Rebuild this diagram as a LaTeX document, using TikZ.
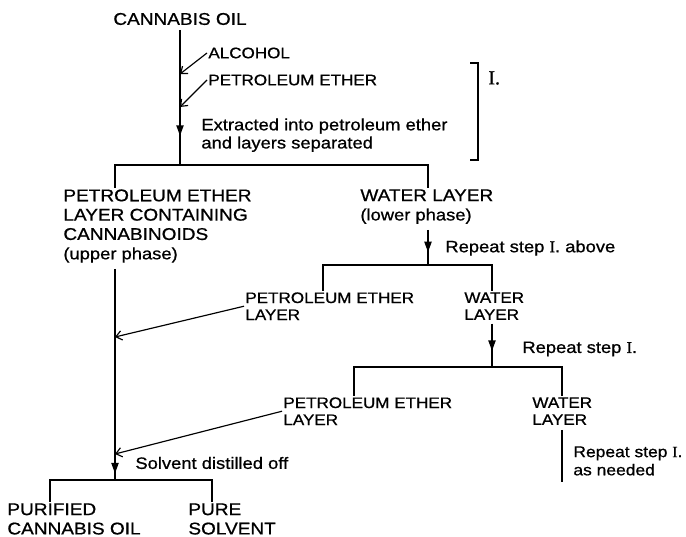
\documentclass[tikz,border=0pt]{standalone}
\usepackage{fontspec}
\setmainfont{Liberation Sans}[FakeStretch=1.12,FakeBold=0.8]
\newfontfamily\romnum{Liberation Serif}[FakeBold=1]
\usetikzlibrary{arrows.meta,decorations.markings}

\begin{document}
\begin{tikzpicture}[x=0.03cm,y=-0.03cm,
  big/.style={inner sep=1pt,align=left,font=\fontsize{14.5}{16.5}\selectfont},
  small/.style={inner sep=1pt,align=left,font=\fontsize{13}{14.5}\selectfont},
  note/.style={inner sep=1pt,align=left,font=\fontsize{14}{15.5}\selectfont},
  flow/.style={line width=1.6pt},
  feed/.style={line width=1pt,-{Straight Barb[length=5pt,width=8pt]}},
  midarrow/.style={postaction={decorate},decoration={markings,
    mark=at position #1 with {\arrow{Triangle[length=9pt,width=6pt]}}}}]
\useasboundingbox (0,0) rectangle (686,537);
\node[big] (oil) at (180,19) {CANNABIS OIL};
\node[small,anchor=west] (alc) at (207,53) {ALCOHOL};
\node[small,anchor=west] (pe0) at (207,80) {PETROLEUM ETHER};
\node[note,anchor=north west] (extr) at (200,117) {Extracted into petroleum ether\\and layers separated};
\node[anchor=west,inner sep=1pt,font=\fontsize{17}{18}\romnum] (step) at (487,78) {I.};
\node[big,anchor=north west] (pel) at (62,188) {PETROLEUM ETHER\\LAYER CONTAINING\\CANNABINOIDS\\{\fontsize{14}{16}\selectfont(upper phase)}};
\node[big,anchor=north west] (wat1) at (359,188) {WATER LAYER\\{\fontsize{14}{16}\selectfont(lower phase)}};
\node[note,anchor=west] (rep1) at (444,248) {Repeat step {\romnum I}. above};
\node[small,anchor=north west] (pe2) at (244,291) {PETROLEUM ETHER\\LAYER};
\node[small,anchor=north west] (wat2) at (463,291) {WATER\\LAYER};
\node[note,anchor=west] (rep2) at (521,349) {Repeat step {\romnum I}.};
\node[small,anchor=north west] (pe3) at (282,396) {PETROLEUM ETHER\\LAYER};
\node[small,anchor=north west] (wat3) at (531,396) {WATER\\LAYER};
\node[note,anchor=north west,font=\fontsize{13.3}{15.5}\selectfont] (rep3) at (572,445) {Repeat step {\romnum I}.\\as needed};
\node[note,anchor=west] (distil) at (134,463) {Solvent distilled off};
\node[big,anchor=north west] (oilout) at (6,502) {PURIFIED\\CANNABIS OIL};
\node[big,anchor=north west] (solvout) at (187,502) {PURE\\SOLVENT};
\coordinate (b1) at (180,165);
\coordinate (b1l) at (115,165);
\coordinate (b1r) at (428,165);
\coordinate (in1) at (180,74);
\coordinate (in2) at (180,107);
\coordinate (b2) at (428,265);
\coordinate (b2l) at (323,265);
\coordinate (b2r) at (492,265);
\coordinate (b3) at (492,367);
\coordinate (b3l) at (354,367);
\coordinate (b3r) at (562,367);
\coordinate (end3) at (562,482);
\coordinate (in3) at (115,337);
\coordinate (in4) at (115,454);
\coordinate (b4) at (115,480);
\coordinate (b4l) at (50,480);
\coordinate (b4r) at (212,480);
\draw[flow,midarrow=0.79,shorten <=3pt] (oil) -- (b1);
\draw[feed] (alc.west) -- (in1);
\draw[feed] (pe0.west) -- (in2);
\draw[line width=1.2pt] (470,63) -- (478,63) -- (478,160) -- (470,160);
\draw[flow] (b1l |- pel.north) -- (b1l) -- (b1r) -- (b1r |- wat1.north);
\draw[flow,midarrow=0.68,shorten <=4pt] (wat1.south -| b2) -- (b2);
\draw[flow] (b2l |- pe2.north) -- (b2l) -- (b2r) -- (b2r |- wat2.north);
\draw[flow,midarrow=0.65,shorten <=2pt] (wat2.south -| b3) -- (b3);
\draw[flow] (b3l |- pe3.north) -- (b3l) -- (b3r) -- (b3r |- wat3.north);
\draw[flow,shorten <=3pt] (wat3.south -| b3r) -- (end3);
\draw[flow,midarrow=0.97,shorten <=4pt] (b1l |- pel.south) -- (b4);
\draw[feed] (pe2.west) -- (in3);
\draw[feed] (pe3.west) -- (in4);
\draw[flow] (b4l |- oilout.north) -- (b4l) -- (b4r) -- (b4r |- solvout.north);
\end{tikzpicture}
\end{document}
